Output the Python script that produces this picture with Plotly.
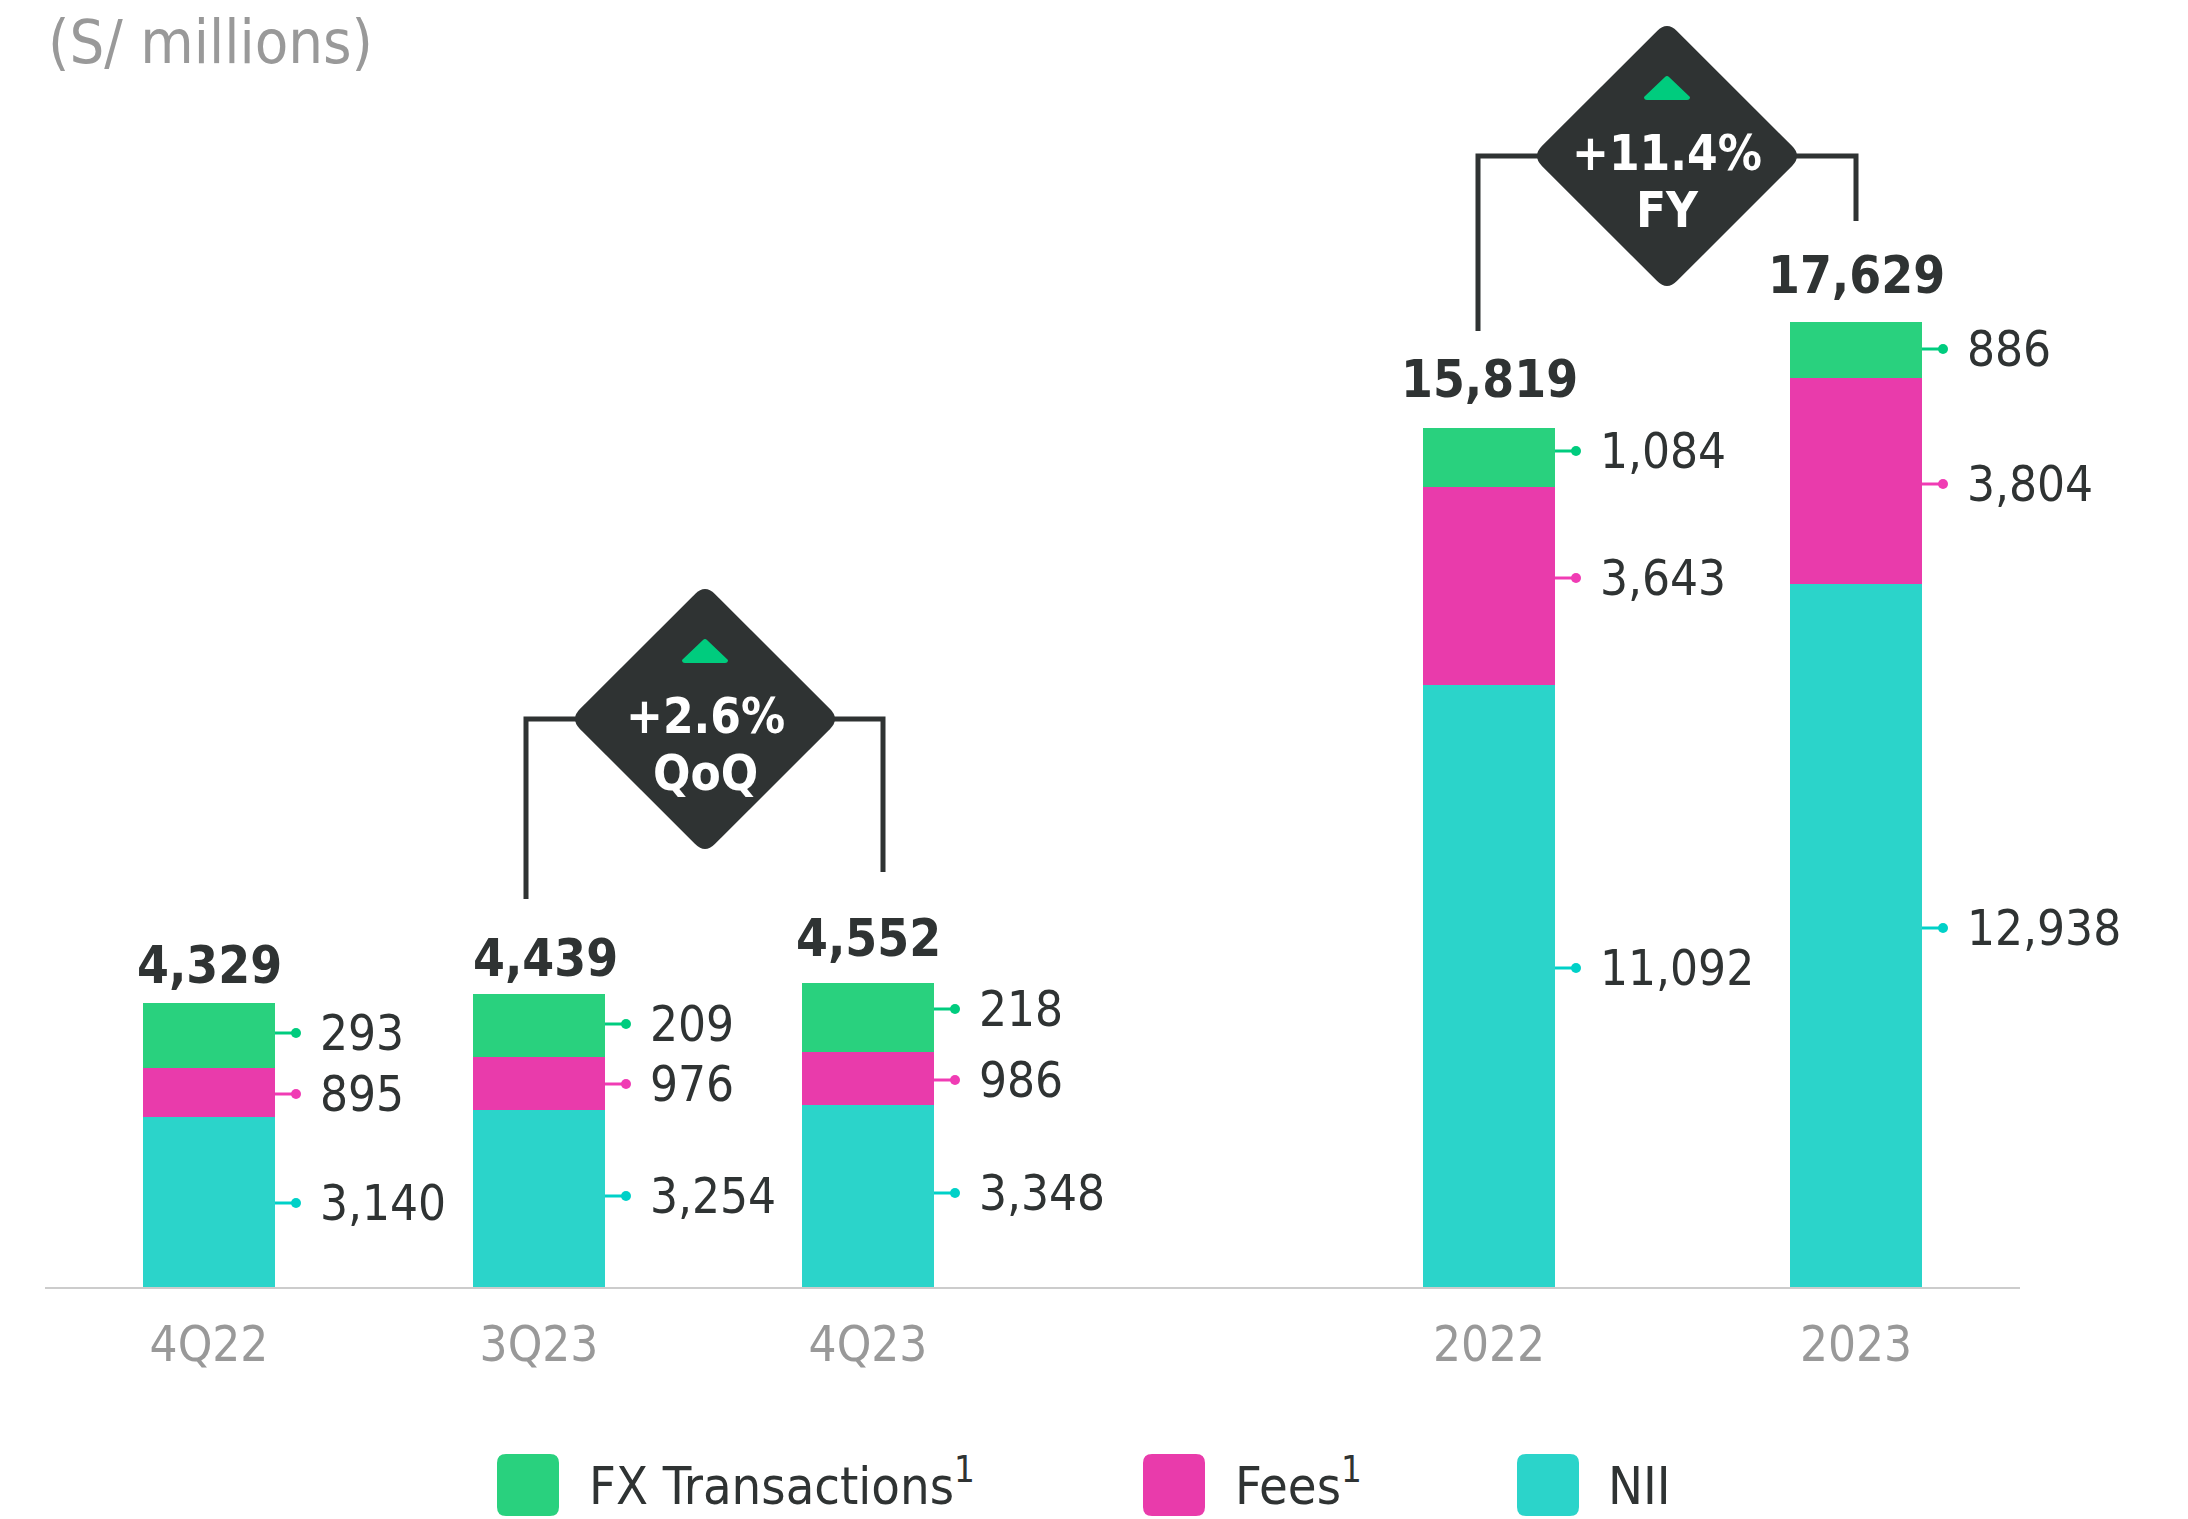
import plotly.graph_objects as go

# ---- data (S/ millions) ----
periods = ["4Q22", "3Q23", "4Q23", "2022", "2023"]
totals = [4329, 4439, 4552, 15819, 17629]
nii = [3140, 3254, 3348, 11092, 12938]
fees = [895, 976, 986, 3643, 3804]
fx = [293, 209, 218, 1084, 886]
# The reference draws the FX block taller than its label in the small bars:
# these are the heights, on the same scale.
fx_drawn = [1197, 1167, 1258, 1084, 1030]
series_names = ["FX Transactions", "Fees", "NII"]
growth_top = ["+2.6%", "+11.4%"]
growth_bottom = ["QoQ", "FY"]

# ---- style / layout constants ----
W, H = 2188, 1519
BASE = 1287
PX_PER_UNIT = 0.0543
x_pos = [209, 539, 868, 1489, 1856]
BAR_W = 132
FONT = "DejaVu Sans Condensed, DejaVu Sans"
DARK = "#2f3333"
GREY = "#999999"
C_BAR = {"FX Transactions": "#29d17e", "Fees": "#e93bab", "NII": "#2bd4ca"}
C_DOT = {"FX Transactions": "#00cc7e", "Fees": "#f03cb4", "NII": "#00d1c8"}
# vertical pixel position of each callout (leader and label) in the picture
callout_py = {
    "FX Transactions": [1033, 1024, 1009, 451, 349],
    "Fees": [1094, 1084, 1080, 578, 484],
    "NII": [1203, 1196, 1193, 968, 928],
}
total_nudge_x = [0, 6, 0, 0, 0]
total_nudge_y = [6, 4, 13, 17, 15]


def yv(py):
    return (BASE - py) / PX_PER_UNIT


def xp(px):
    return (px - 45) / (2020 - 45)


def yp(py):
    return (BASE - py) / BASE


fig = go.Figure()
bar_values = {"NII": nii, "Fees": fees, "FX Transactions": fx_drawn}
for name in ["NII", "Fees", "FX Transactions"]:
    fig.add_bar(x=x_pos, y=bar_values[name], name=name, width=BAR_W,
                marker=dict(color=C_BAR[name], line=dict(width=0)))

annotations = []
labels = {"NII": nii, "Fees": fees, "FX Transactions": fx}
bottom = [0] * 5
for name in ["NII", "Fees", "FX Transactions"]:
    lx, ly, mx, my = [], [], [], []
    for i in range(5):
        mid = yv(callout_py[name][i])
        right = x_pos[i] + BAR_W / 2
        lx += [right, right + 21, None]
        ly += [mid, mid, None]
        mx.append(right + 21)
        my.append(mid)
        annotations.append(dict(x=right, y=mid, xref="x", yref="y", xanchor="left",
                                yanchor="middle", xshift=43, showarrow=False,
                                text=f"{labels[name][i]:,}",
                                font=dict(family=FONT, size=49, color=DARK)))
        bottom[i] += bar_values[name][i]
    fig.add_scatter(x=lx, y=ly, mode="lines", line=dict(color=C_DOT[name], width=3),
                    showlegend=False, hoverinfo="skip")
    fig.add_scatter(x=mx, y=my, mode="markers", showlegend=False, hoverinfo="skip",
                    marker=dict(color=C_DOT[name], size=10, line=dict(width=0)))

for i in range(5):
    annotations.append(dict(x=x_pos[i], y=bottom[i], xref="x", yref="y", xanchor="center",
                            yanchor="bottom", xshift=total_nudge_x[i], yshift=total_nudge_y[i],
                            showarrow=False, text=f"<b>{totals[i]:,}</b>",
                            font=dict(family=FONT, size=51, color=DARK)))

shapes = []


def line_path(pts):
    return "M " + " L ".join(f"{x},{yv(y)}" for x, y in pts)


def diamond(cx, cy, r, c=14):
    pts = [(cx, cy - r), (cx + r, cy), (cx, cy + r), (cx - r, cy)]
    d = c * 0.7071
    segs = []
    for i, (x, y) in enumerate(pts):
        px, py = pts[i - 1]
        nx, ny = pts[(i + 1) % 4]
        sgn = lambda a, b: (a > b) - (a < b)
        ax, ay = x + sgn(px, x) * d, y + sgn(py, y) * d
        bx, by = x + sgn(nx, x) * d, y + sgn(ny, y) * d
        segs.append(f"{'M' if i == 0 else 'L'} {ax},{yv(ay)} Q {x},{yv(y)} {bx},{yv(by)}")
    return " ".join(segs) + " Z"


badges = [
    dict(cx=705, cy=719, left=(526, 899), right=(883, 872), i=0),
    dict(cx=1667, cy=156, left=(1478, 331), right=(1856, 221), i=1),
]
for b in badges:
    cx, cy = b["cx"], b["cy"]
    lx, ly = b["left"]
    rx, ry = b["right"]
    shapes.append(dict(type="path", xref="x", yref="y", layer="above",
                       path=line_path([(lx, ly), (lx, cy), (rx, cy), (rx, ry)]),
                       line=dict(color=DARK, width=5)))
    shapes.append(dict(type="path", xref="x", yref="y", layer="above",
                       path=diamond(cx, cy, 135), fillcolor=DARK, line=dict(width=0)))
    shapes.append(dict(type="path", xref="x", yref="y", layer="above",
                       path=f"M {cx-23},{yv(cy-59)} L {cx-2},{yv(cy-79)} Q {cx},{yv(cy-81)} {cx+2},{yv(cy-79)} "
                            f"L {cx+23},{yv(cy-59)} Q {cx+23},{yv(cy-56)} {cx+20},{yv(cy-56)} "
                            f"L {cx-20},{yv(cy-56)} Q {cx-23},{yv(cy-56)} {cx-23},{yv(cy-59)} Z",
                       fillcolor="#00cc7e", line=dict(width=0)))
    for txt, dy in ((growth_top[b["i"]], -3), (growth_bottom[b["i"]], 54)):
        annotations.append(dict(x=cx, y=yv(cy + dy), xref="x", yref="y", xanchor="center",
                                yanchor="middle", showarrow=False, text=f"<b>{txt}</b>",
                                font=dict(family=FONT, size=49, color="#ffffff")))

# legend, drawn as rounded swatches as in the reference
legend_x = {"FX Transactions": 497, "Fees": 1143, "NII": 1517}
legend_text_x = {"FX Transactions": 587, "Fees": 1233, "NII": 1606}
legend_text = {"FX Transactions": "FX Transactions<sup>1</sup>", "Fees": "Fees<sup>1</sup>", "NII": "NII"}
for name in series_names:
    x0, x1 = xp(legend_x[name]), xp(legend_x[name] + 62)
    rx_ = 9 / 1975
    ry_ = 9 / BASE
    y0, y1 = yp(1454), yp(1516)
    shapes.append(dict(
        type="path", xref="paper", yref="paper", layer="above", line=dict(width=0),
        fillcolor=C_BAR[name],
        path=(f"M {x0+rx_},{y0} L {x1-rx_},{y0} Q {x1},{y0} {x1},{y0-ry_} "
              f"L {x1},{y1+ry_} Q {x1},{y1} {x1-rx_},{y1} L {x0+rx_},{y1} "
              f"Q {x0},{y1} {x0},{y1+ry_} L {x0},{y0-ry_} Q {x0},{y0} {x0+rx_},{y0} Z")))
    annotations.append(dict(x=xp(legend_text_x[name]), y=yp(1518), xref="paper", yref="paper",
                            xanchor="left", yanchor="bottom", showarrow=False,
                            text=legend_text[name],
                            font=dict(family=FONT, size=52, color=DARK)))

annotations.append(dict(x=46, y=yv(41), xref="x", yref="y", xanchor="left", yanchor="middle",
                        showarrow=False, text="(S/ millions)",
                        font=dict(family=FONT, size=61, color=GREY)))

fig.update_layout(
    width=W, height=H, barmode="stack", showlegend=False, hovermode=False,
    paper_bgcolor="white", plot_bgcolor="white",
    margin=dict(l=45, r=W - 2020, t=0, b=H - BASE),
    xaxis=dict(range=[45, 2020], tickmode="array", tickvals=x_pos, ticktext=periods,
               showgrid=False, zeroline=False, showline=True, linecolor="#cccccc", linewidth=2,
               ticks="outside", ticklen=13, tickcolor="rgba(0,0,0,0)",
               tickfont=dict(family=FONT, size=49, color=GREY)),
    yaxis=dict(range=[0, BASE / PX_PER_UNIT], visible=False),
    shapes=shapes, annotations=annotations,
)

fig.write_html("out.html", config=dict(displayModeBar=False),
               post_script="document.body.style.margin='0';document.documentElement.style.overflow='hidden';")
